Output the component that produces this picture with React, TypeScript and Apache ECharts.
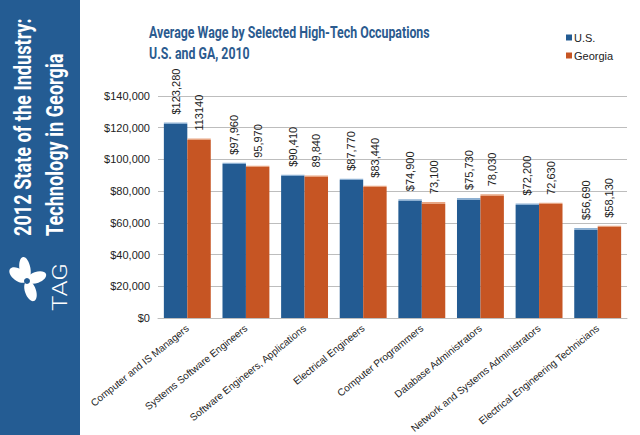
import React, { useEffect, useRef } from "react";
import * as echarts from "echarts";

// Occupations on the category axis
const occupations = [
  "Computer and IS Managers",
  "Systems Software Engineers",
  "Software Engineers, Applications",
  "Electrical Engineers",
  "Computer Programmers",
  "Database Administrators",
  "Network and Systems Administrators",
  "Electrical Engineering Technicians",
];

// Average annual wage, 2010
const usWages = [123280, 97960, 90410, 87770, 74900, 75730, 72200, 56690];
const gaWages = [113140, 95970, 89840, 83440, 73100, 78030, 72630, 58130];

// Value labels as printed on the bars
const usLabels = ["$123,280", "$97,960", "$90,410", "$87,770", "$74,900", "$75,730", "$72,200", "$56,690"];
const gaLabels = ["113140", "95,970", "89,840", "$83,440", "73,100", "78,030", "72,630", "$58,130"];

const seriesNames = ["U.S.", "Georgia"];

const Y_MIN = 0;
const Y_MAX = 140000;
const Y_STEP = 20000;

const BLUE = "#235b92";
const BLUE_TOP = "#8db0d2";
const ORANGE = "#c65523";
const ORANGE_TOP = "#e7a583";
const SIDEBAR = "#245c93";
const TITLE_COLOR = "#2b5b8f";
const TEXT = "#222222";
const GRID_LINE = "#bdbdbd";

const PLOT_TOP = 96;
const PLOT_BOTTOM = 318;

// horizontal scale that squeezes a string into the given width
function fitScale(text: string, font: string, width: number): number {
  const c = document.createElement("canvas");
  const ctx = c.getContext("2d");
  if (!ctx) return 1;
  ctx.font = font;
  const w = ctx.measureText(text).width;
  return w > 0 ? width / w : 1;
}

// bar fill with a thin lighter cap at the top
function barFill(value: number, solid: string, cap: string) {
  const px = ((value - Y_MIN) / (Y_MAX - Y_MIN)) * (PLOT_BOTTOM - PLOT_TOP);
  const s = Math.min(0.5, 1.6 / Math.max(px, 1));
  return new echarts.graphic.LinearGradient(0, 0, 0, 1, [
    { offset: 0, color: cap },
    { offset: s, color: cap },
    { offset: s, color: solid },
    { offset: 1, color: solid },
  ]);
}

function petal(cx: number, cy: number, tx: number, ty: number, width: number) {
  const dx = tx - cx;
  const dy = ty - cy;
  const len = Math.sqrt(dx * dx + dy * dy);
  const theta = Math.atan2(dy, dx);
  return {
    type: "ellipse",
    x: (cx + tx) / 2,
    y: (cy + ty) / 2,
    rotation: -theta,
    shape: { cx: 0, cy: 0, rx: len / 2, ry: width },
    style: { fill: "#ffffff" },
  };
}

export default function App() {
  const ref = useRef<HTMLDivElement>(null);

  useEffect(() => {
    if (!ref.current) return;
    const chart = echarts.init(ref.current, undefined, { renderer: "svg" });

    const sideFont = "bold 23px Roboto";
    const side1 = "2012 State of the Industry:";
    const side2 = "Technology in Georgia";
    const sideScale = fitScale(side1, sideFont, 218);

    const titleFont = "bold 16px Roboto";
    const title1 = "Average Wage by Selected High-Tech Occupations";
    const title2 = "U.S. and GA, 2010";
    const titleScale = fitScale(title1, titleFont, 281);

    const tagFont = "300 20px Roboto";
    const tagScale = fitScale("TAG", tagFont, 48);

    const cx = 27;
    const cy = 281;

    chart.setOption({
      animation: false,
      backgroundColor: "#ffffff",
      textStyle: { fontFamily: "'Liberation Sans', Arial, sans-serif" },
      graphic: [
        {
          type: "rect",
          shape: { x: 0, y: 0, width: 80, height: 435 },
          style: { fill: SIDEBAR },
          silent: true,
        },
        {
          type: "text",
          x: 23,
          y: 236,
          rotation: Math.PI / 2,
          scaleX: sideScale,
          style: {
            text: side1,
            font: sideFont,
            fill: "#ffffff",
            textAlign: "left",
            textVerticalAlign: "middle",
            align: "left",
            verticalAlign: "middle",
          },
        },
        {
          type: "text",
          x: 55,
          y: 236,
          rotation: Math.PI / 2,
          scaleX: sideScale,
          style: {
            text: side2,
            font: sideFont,
            fill: "#ffffff",
            textAlign: "left",
            textVerticalAlign: "middle",
            align: "left",
            verticalAlign: "middle",
          },
        },
        // TAG mark: pinwheel petals around a hollow centre
        petal(cx, cy, 23, 257, 5.5),
        petal(cx, cy, 10, 269, 6),
        petal(cx, cy, 46, 274, 5.5),
        petal(cx, cy, 34, 301, 5.5),
        {
          type: "circle",
          shape: { cx: cx, cy: cy, r: 3 },
          style: { fill: SIDEBAR },
        },
        {
          type: "text",
          x: 60,
          y: 311,
          rotation: Math.PI / 2,
          scaleX: tagScale,
          style: {
            text: "TAG",
            font: tagFont,
            fill: "#ffffff",
            textAlign: "left",
            textVerticalAlign: "middle",
            align: "left",
            verticalAlign: "middle",
          },
        },
        {
          type: "text",
          x: 149,
          y: 32,
          scaleX: titleScale,
          style: {
            text: title1,
            font: titleFont,
            fill: TITLE_COLOR,
            textAlign: "left",
            textVerticalAlign: "middle",
            align: "left",
            verticalAlign: "middle",
          },
        },
        {
          type: "text",
          x: 149,
          y: 53,
          scaleX: titleScale,
          style: {
            text: title2,
            font: titleFont,
            fill: TITLE_COLOR,
            textAlign: "left",
            textVerticalAlign: "middle",
            align: "left",
            verticalAlign: "middle",
          },
        },
      ],
      legend: {
        orient: "vertical",
        left: 561,
        top: 27,
        itemWidth: 6,
        itemHeight: 6,
        itemGap: 7,
        icon: "rect",
        data: seriesNames,
        textStyle: { fontSize: 11, color: TEXT, padding: [0, 0, 0, -3] },
      },
      grid: {
        left: 158,
        right: 13,
        top: PLOT_TOP,
        bottom: 435 - PLOT_BOTTOM,
        containLabel: false,
        outerBoundsMode: "none",
      },
      xAxis: {
        type: "category",
        data: occupations,
        axisLine: { lineStyle: { color: GRID_LINE, width: 1 } },
        axisTick: { show: false },
        axisLabel: {
          interval: 0,
          rotate: 39,
          fontSize: 10,
          color: TEXT,
          margin: 9,
        },
      },
      yAxis: {
        type: "value",
        min: Y_MIN,
        max: Y_MAX,
        interval: Y_STEP,
        axisLine: { show: false },
        axisTick: { show: false },
        splitLine: { lineStyle: { color: GRID_LINE, width: 1 } },
        axisLabel: {
          fontSize: 11,
          color: TEXT,
          margin: 8,
          formatter: (v: number) => "$" + v.toLocaleString("en-US"),
        },
      },
      series: [
        {
          name: seriesNames[0],
          type: "bar",
          barGap: "0%",
          barCategoryGap: "20%",
          itemStyle: { color: BLUE },
          data: usWages.map((v) => ({ value: v, itemStyle: { color: barFill(v, BLUE, BLUE_TOP) } })),
          label: {
            show: true,
            position: "top",
            rotate: 90,
            align: "left",
            verticalAlign: "middle",
            distance: 8,
            fontSize: 11,
            color: TEXT,
            formatter: (p: any) => usLabels[p.dataIndex],
          },
        },
        {
          name: seriesNames[1],
          type: "bar",
          barGap: "0%",
          barCategoryGap: "20%",
          itemStyle: { color: ORANGE },
          data: gaWages.map((v) => ({ value: v, itemStyle: { color: barFill(v, ORANGE, ORANGE_TOP) } })),
          label: {
            show: true,
            position: "top",
            rotate: 90,
            align: "left",
            verticalAlign: "middle",
            distance: 8,
            fontSize: 11,
            color: TEXT,
            formatter: (p: any) => gaLabels[p.dataIndex],
          },
        },
      ],
    });

    return () => chart.dispose();
  }, []);

  return (
    <div
      ref={ref}
      style={{ position: "absolute", left: 0, top: 0, width: 640, height: 435 }}
    />
  );
}
